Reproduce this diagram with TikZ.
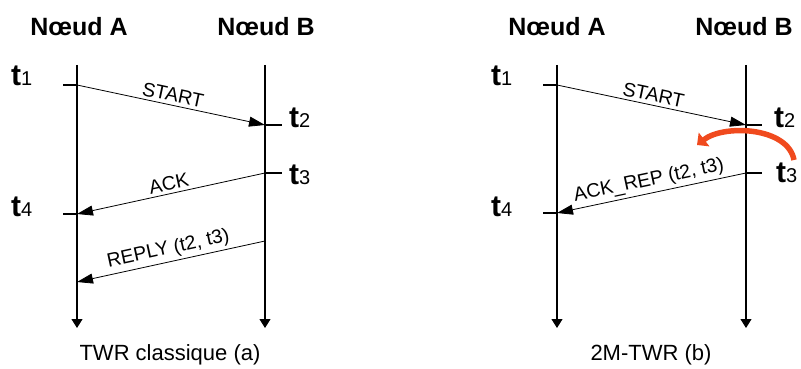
\documentclass[tikz,border=0pt]{standalone}
\usepackage{fontspec}
\setmainfont{Liberation Sans}
\usetikzlibrary{arrows.meta}
\definecolor{turnred}{RGB}{240,74,30}
\newcommand{\tstamp}[1]{{\fontsize{30}{30}\selectfont\bfseries t}{\fontsize{20}{20}\selectfont #1}}
\tikzset{
  timeaxis/.style={line width=1.1pt, -{Triangle[length=9pt,width=11pt]}},
  message/.style={line width=0.8pt, -{Triangle[length=16pt,width=10pt]}},
  tickline/.style={line width=1.1pt},
  msglabel/.style={font=\fontsize{19.5}{19.5}\selectfont, sloped, above, pos=0.5, inner sep=3pt},
  nodetitle/.style={font=\fontsize{25}{25}\selectfont\bfseries},
  timelabel/.style={anchor=base west, inner sep=0pt},
  caption/.style={font=\fontsize{22}{22}\selectfont}
}
\begin{document}
\begin{tikzpicture}[x=1pt, y=-1pt]
  \useasboundingbox (0,0) rectangle (801,369);

  %%% (a) classic TWR
  % titles
  \node[nodetitle] (na1) at (79,27) {Nœud A};
  \node[nodetitle] (nb1) at (266,27) {Nœud B};
  % time axes
  \coordinate (a1top) at (77,65);  \coordinate (a1bot) at (77,328);
  \coordinate (b1top) at (265,65); \coordinate (b1bot) at (265,328);
  \draw[timeaxis] (a1top) -- (a1bot);
  \draw[timeaxis] (b1top) -- (b1bot);
  % instants
  \coordinate (a1t1) at (77,85);   \coordinate (a1t1x) at (63,85);
  \coordinate (b1t2) at (265,125); \coordinate (b1t2x) at (282,125);
  \coordinate (b1t3) at (265,173); \coordinate (b1t3x) at (282,173);
  \coordinate (a1t4) at (77,214);  \coordinate (a1t4x) at (63,214);
  \coordinate (b1rp) at (265,241); \coordinate (a1rp) at (77,282);
  \draw[tickline] (a1t1x) -- (a1t1);
  \draw[tickline] (b1t2) -- (b1t2x);
  \draw[tickline] (b1t3) -- (b1t3x);
  \draw[tickline] (a1t4x) -- (a1t4);
  \node[timelabel] (l1t1) at (11,85)  {\tstamp{1}};
  \node[timelabel] (l1t2) at (289,128) {\tstamp{2}};
  \node[timelabel] (l1t3) at (289,184) {\tstamp{3}};
  \node[timelabel] (l1t4) at (11,216) {\tstamp{4}};
  % messages
  \draw[message] (a1t1) -- (b1t2) node[msglabel] {START};
  \draw[message] (b1t3) -- (a1t4) node[msglabel] {ACK};
  \draw[message] (b1rp) -- (a1rp) node[msglabel] {REPLY (t2, t3)};
  \node[caption] (capa) at (170,355) {TWR classique (a)};

  %%% (b) 2M-TWR
  % titles
  \node[nodetitle] (na2) at (557,27) {Nœud A};
  \node[nodetitle] (nb2) at (744,27) {Nœud B};
  % time axes
  \coordinate (a2top) at (557,65);  \coordinate (a2bot) at (557,328);
  \coordinate (b2top) at (746,65);  \coordinate (b2bot) at (746,328);
  \draw[timeaxis] (a2top) -- (a2bot);
  \draw[timeaxis] (b2top) -- (b2bot);
  % instants
  \coordinate (a2t1) at (557,85);  \coordinate (a2t1x) at (543,85);
  \coordinate (b2t2) at (746,125); \coordinate (b2t2x) at (762,125);
  \coordinate (b2t3) at (746,173); \coordinate (b2t3x) at (762,173);
  \coordinate (a2t4) at (557,213); \coordinate (a2t4x) at (543,213);
  \draw[tickline] (a2t1x) -- (a2t1);
  \draw[tickline] (b2t2) -- (b2t2x);
  \draw[tickline] (b2t3) -- (b2t3x);
  \draw[tickline] (a2t4x) -- (a2t4);
  \node[timelabel] (l2t1) at (491,85)  {\tstamp{1}};
  \node[timelabel] (l2t2) at (774,128) {\tstamp{2}};
  \node[timelabel] (l2t3) at (776,182) {\tstamp{3}};
  \node[timelabel] (l2t4) at (491,216) {\tstamp{4}};
  % messages
  \draw[message] (a2t1) -- (b2t2) node[msglabel] {START};
  \draw[message] (b2t3) -- (a2t4) node[msglabel] {ACK\_REP (t2, t3)};
  % reply merged into ack
  \coordinate (turnfrom) at (794,160);
  \coordinate (turnto) at (697,145);
  \draw[turnred, line width=5.5pt, -{Triangle[length=9pt,width=17pt]}]
    (turnfrom) .. controls (788,127) and (724,124) .. (turnto);
  \node[caption] (capb) at (651,355) {2M-TWR (b)};
\end{tikzpicture}
\end{document}
